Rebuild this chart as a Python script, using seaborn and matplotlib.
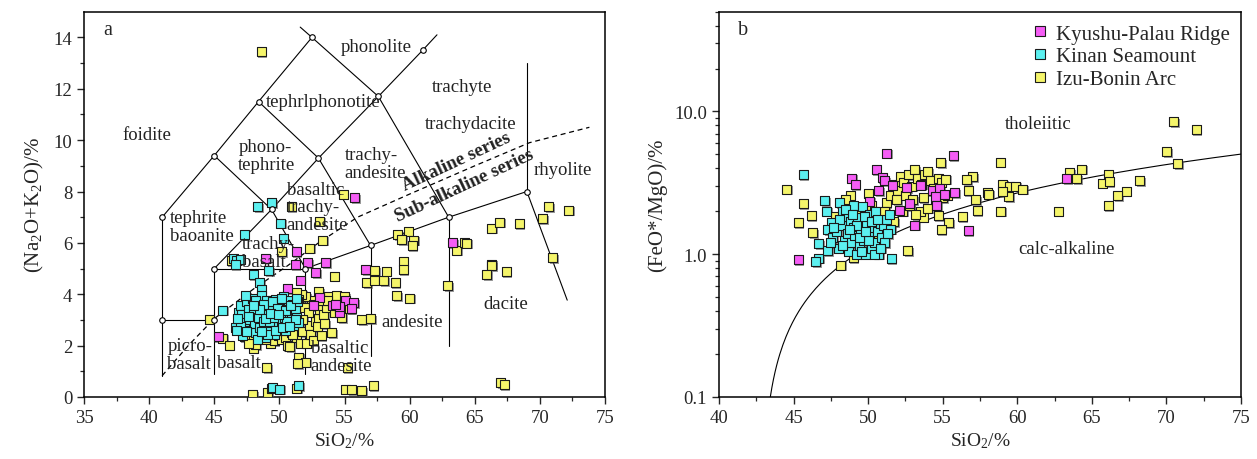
import numpy as np
import pandas as pd
import matplotlib
matplotlib.use("Agg")
import matplotlib.pyplot as plt
import matplotlib.patheffects as pe
from matplotlib.lines import Line2D
from matplotlib.ticker import MultipleLocator, FixedLocator, FixedFormatter, LogLocator, NullFormatter
import seaborn as sns

# ---------------- DATA ----------------
groups = ["Kyushu-Palau Ridge", "Kinan Seamount", "Izu-Bonin Arc"]
colors = {"Kyushu-Palau Ridge": "#F55DF5", "Kinan Seamount": "#5CF0F0", "Izu-Bonin Arc": "#F5F56A"}

# Panel a: SiO2 vs Na2O+K2O
a_kp_x = [55.8, 56.6, 63.3, 51.3, 51.2, 52.15, 53.55, 52.8, 51.6, 50.6, 48.95, 45.3, 53.1, 54.1,
          54.65, 55.1, 55.7, 54.6, 52.6, 49.15, 48.9, 55.5, 54.3]
a_kp_y = [7.77, 4.97, 6.01, 5.66, 5.14, 5.23, 5.23, 4.84, 4.55, 4.23, 5.4, 2.34, 3.87, 3.55,
          3.29, 3.74, 3.68, 3.52, 3.55, 3.74, 2.38, 3.45, 3.6]

a_ks_x = [45.65, 46.5, 46.7, 47.0, 46.6, 47.3, 50.3, 48.0, 49.2, 48.5, 48.6, 48.33, 49.4, 50.1,
          49.4, 49.5, 50.0, 51.5,
          46.6, 46.9, 47.0, 47.1, 47.3, 47.2, 47.5, 47.6, 47.7, 47.8, 47.9, 48.0, 48.1, 48.2, 48.3,
          48.4, 48.5, 48.6, 48.7, 48.8, 48.9, 49.0, 49.1, 49.15, 49.3, 49.4, 49.5, 49.6, 49.7, 49.8,
          49.9, 50.0, 50.1, 50.2, 50.3, 50.4, 50.5, 50.6, 50.7, 50.8, 50.9, 51.0, 51.1, 51.2, 51.3,
          51.4, 51.5, 47.4, 47.05, 48.15, 48.35, 48.75, 49.25, 49.45, 49.55, 49.85, 50.15, 50.45,
          50.55, 49.05, 48.45, 47.65, 46.8, 46.7, 50.85, 51.25, 51.35, 49.7, 50.25, 48.05, 48.95,
          49.35, 49.95, 50.75, 47.45, 48.65]
a_ks_y = [3.38, 5.39, 5.33, 5.36, 5.14, 6.31, 6.18, 4.75, 4.91, 4.45, 4.2, 7.42, 7.57, 6.77,
          0.34, 0.37, 0.31, 0.44,
          2.7, 3.3, 3.55, 3.2, 2.9, 2.4, 3.7, 3.4, 3.0, 2.6, 3.85, 3.3, 2.85, 2.5, 3.6,
          3.1, 2.7, 3.95, 3.4, 2.95, 2.3, 3.75, 3.2, 2.6, 3.55, 2.9, 3.35, 2.45, 3.8, 3.05,
          2.75, 3.6, 3.3, 2.9, 3.9, 3.1, 2.6, 3.5, 3.75, 3.0, 3.25, 3.6, 2.8, 3.4, 3.1,
          3.7, 2.9, 3.95, 2.75, 3.75, 2.25, 3.6, 2.95, 3.7, 3.1, 3.45, 3.85, 3.35,
          2.95, 2.45, 3.4, 3.15, 3.05, 2.6, 3.55, 3.0, 3.85, 2.6, 2.7, 3.55, 3.05,
          3.25, 3.2, 2.75, 2.55, 2.55]

a_ib_x = [48.6, 54.9, 50.9, 53.1, 53.3, 52.35, 50.2, 59.1, 59.9, 59.4, 60.3, 60.2, 63.6, 64.2, 64.4,
          66.3, 66.9, 68.4, 70.2, 70.7, 72.2, 71.0, 62.9, 66.3, 66.3, 65.9, 67.4, 59.5, 59.5, 58.9,
          59.0, 60.0, 57.3, 56.7, 57.3, 58.0, 58.2, 56.3, 57.0, 67.0, 67.25, 55.1, 55.55, 56.3, 57.2,
          47.95, 49.1, 51.35, 44.6, 45.65, 46.15, 46.3, 54.2,
          47.8, 48.0, 48.2, 48.6, 49.0, 49.3, 49.6, 49.9, 50.2, 50.5, 50.6, 50.9, 51.1, 51.3, 51.5,
          51.6, 51.8, 52.0, 52.1, 52.3, 52.4, 52.6, 52.8, 53.0, 53.1, 53.2, 53.4, 53.6, 53.8, 54.0,
          54.1, 54.2, 54.4, 54.6, 54.8, 55.0, 55.2, 55.4, 53.0, 52.5, 52.0, 51.7, 51.5, 51.3, 51.9,
          52.2, 51.8, 52.6, 53.3, 53.7, 51.0, 50.3, 47.3, 47.6, 48.9, 52.9, 53.5, 50.8, 51.4, 48.4]
a_ib_y = [13.45, 7.9, 7.4, 6.85, 6.1, 5.79, 5.66, 6.33, 6.45, 6.13, 6.1, 5.9, 5.72, 6.03, 5.99,
          6.57, 6.81, 6.76, 6.94, 7.41, 7.27, 5.43, 4.33, 5.17, 5.1, 4.75, 4.87, 5.27, 4.95, 4.45,
          3.94, 3.85, 4.91, 4.45, 4.55, 4.52, 4.9, 3.0, 3.06, 0.55, 0.47, 0.31, 0.28, 0.25, 0.44,
          0.08, 0.16, 0.34, 3.03, 2.29, 2.02, 5.3, 4.71,
          2.2, 1.9, 2.05, 2.35, 1.15, 2.1, 2.2, 2.4, 2.25, 2.3, 2.0, 2.5, 2.7, 2.3, 1.55,
          2.1, 2.55, 1.35, 2.1, 2.8, 2.45, 2.2, 2.95, 3.05, 3.4, 2.4, 3.2, 3.5, 3.9, 2.5,
          3.6, 3.3, 3.95, 3.4, 3.1, 3.9, 1.15, 3.45, 4.1, 3.75, 3.9, 4.0, 3.8, 4.05, 3.5,
          3.3, 3.0, 3.6, 3.75, 3.75, 2.45, 2.6, 2.35, 2.1, 2.25, 2.75, 2.85, 1.95, 1.3, 2.75]

# Panel b: SiO2 vs FeO*/MgO
b_kp_x = [51.25, 55.7, 50.54, 50.95, 48.9, 49.13, 51.1, 51.6, 50.7, 52.6, 53.5, 54.3, 54.8, 55.1,
          55.8, 54.5, 52.8, 50.1, 52.1, 54.6, 53.1, 56.7, 63.3, 45.3]
b_kp_y = [5.11, 4.92, 3.91, 3.45, 3.42, 3.07, 3.27, 3.02, 2.79, 2.94, 3.04, 2.79, 2.9, 2.64,
          2.69, 2.55, 2.26, 2.35, 2.03, 2.19, 1.6, 1.47, 3.40, 0.92]

b_ks_x = [45.64, 47.1, 47.2, 48.1, 48.3, 47.55, 47.3, 46.7, 46.7, 47.3, 51.55, 46.5,
          47.6, 47.9, 48.0, 48.2, 48.4, 48.5, 48.6, 48.7, 48.8, 48.9, 49.0, 49.0, 49.1, 49.2, 49.3,
          49.4, 49.5, 49.6, 49.7, 49.8, 49.9, 50.0, 50.1, 50.2, 50.3, 50.4, 50.5, 50.6, 50.7, 50.8,
          50.9, 51.0, 51.1, 51.2, 51.4, 51.5, 48.1, 48.45, 49.25, 49.75, 50.25, 47.7, 48.3, 49.55,
          50.05, 50.65, 51.3, 48.95, 49.45, 50.45, 47.5, 48.75, 49.85, 50.85]
b_ks_y = [3.61, 2.37, 2.0, 2.31, 2.0, 1.66, 1.49, 1.18, 0.94, 1.06, 0.93, 0.89,
          1.3, 1.45, 1.1, 1.6, 1.25, 1.85, 1.4, 1.05, 1.7, 1.2, 1.55, 2.2, 1.35, 1.0, 1.8,
          1.15, 1.5, 2.15, 1.25, 1.0, 1.65, 1.35, 1.9, 1.1, 1.55, 1.2, 2.0, 1.45, 1.0, 1.65,
          1.3, 1.6, 1.2, 1.75, 1.9, 1.5, 1.75, 2.05, 1.6, 1.85, 1.7, 1.55, 1.15, 1.05,
          1.25, 1.75, 1.4, 1.9, 1.3, 1.0, 1.2, 1.5, 1.45, 1.1]

b_ib_x = [70.48, 72.0, 70.02, 70.75, 64.3, 63.5, 64.0, 66.1, 65.7, 66.15, 68.2, 67.3, 66.75, 66.1,
          62.75, 58.85, 57.0, 56.6, 56.7, 57.2, 57.3, 57.98, 58.1, 59.04, 59.5, 59.9, 59.4, 60.35,
          59.0, 58.9, 56.3, 55.4, 54.9, 54.7, 54.85, 53.7, 52.64, 48.17, 44.55, 45.64, 45.3, 46.18,
          46.3,
          51.2, 51.5, 51.8, 52.0, 52.2, 52.4, 52.5, 52.7, 52.9, 53.0, 53.1, 53.3, 53.5, 53.6, 53.8,
          54.0, 54.0, 54.2, 54.4, 54.7, 54.9, 55.2, 55.0, 52.3, 51.7, 51.3, 51.0, 50.8, 50.5, 50.7,
          49.8, 49.3, 48.8, 48.5, 49.0, 48.7, 47.8, 50.0, 50.2, 50.9, 51.1, 52.8, 53.7, 54.5, 55.3,
          53.2, 51.9, 50.4]
b_ib_y = [8.47, 7.45, 5.22, 4.33, 3.95, 3.74, 3.37, 3.61, 3.15, 3.24, 3.27, 2.76, 2.57, 2.19,
          2.0, 4.42, 3.51, 3.33, 2.8, 2.41, 2.03, 2.69, 2.63, 3.10, 3.0, 3.0, 2.52, 2.86,
          2.73, 2.0, 1.84, 1.67, 1.49, 1.87, 4.40, 1.82, 1.06, 0.84, 2.86, 2.26, 1.67, 1.86,
          1.41,
          2.3, 2.6, 3.1, 2.8, 3.5, 3.2, 2.6, 3.6, 3.0, 2.4, 3.9, 3.4, 2.0, 3.1, 3.6,
          3.8, 2.1, 3.3, 2.9, 3.4, 3.2, 3.35, 2.5, 2.0, 1.7, 1.5, 1.3, 1.1, 1.05, 1.4,
          1.7, 1.9, 2.6, 2.4, 0.95, 1.8, 1.85, 2.65, 2.2, 1.75, 2.0, 2.2, 2.5, 2.4, 2.6,
          1.9, 2.4, 2.0]

# TAS boundaries (Le Bas et al.)
tas_lines = [
    ([41, 41], [0.83, 7]),
    ([41, 45], [3, 3]),
    ([45, 45], [0.9, 5]),
    ([45, 52], [5, 5]),
    ([52, 52], [0.9, 5]),
    ([52, 57, 63, 69], [5, 5.9, 7, 8]),
    ([57, 57], [1.6, 5.9]),
    ([63, 63], [2.0, 7]),
    ([69, 69], [8, 13]),
    ([69, 72.1], [8, 3.77]),
    ([41, 45, 48.4, 52.5], [7, 9.4, 11.5, 14]),
    ([45, 49.4, 52], [9.4, 7.3, 5]),
    ([48.4, 53, 57], [11.5, 9.3, 5.9]),
    ([51.6, 52.5, 57.6, 63], [14.4, 14, 11.7, 7]),
    ([45, 49.4, 53, 57.6, 61, 62.1], [5, 7.3, 9.3, 11.7, 13.5, 14.1]),
]
vert_x = [41, 41, 45, 45, 45, 48.4, 49.4, 52, 52.5, 53, 57, 57.6, 61, 63, 69]
vert_y = [7, 3, 9.4, 5, 3, 11.5, 7.3, 5, 14, 9.3, 5.9, 11.7, 13.5, 7, 8]
alk_x = [41, 43, 45, 48, 50.6, 53, 56, 60, 65, 69.2, 73.8]
alk_y = [0.83, 2.0, 3.05, 4.2, 5.1, 6.0, 7.0, 7.9, 9.0, 9.9, 10.5]

rock_labels = [
    ("foidite", 39.8, 10.2), ("phonolite", 57.4, 13.65), ("tephrlphonotite", 53.4, 11.5),
    ("trachyte", 64.0, 12.1), ("trachydacite", 64.7, 10.65),
]
rock_labels_left = [
    ("phono-\ntephrite", 46.85, 9.4), ("trachy-\nandesite", 55.0, 9.1),
    ("basaltic\ntrachy-\nandesite", 50.55, 7.4), ("tephrite\nbaoanite", 41.6, 6.63),
    ("trachy-\nbasalt", 47.1, 5.63), ("picro-\nbasalt", 41.4, 1.66), ("basalt", 45.2, 1.34),
    ("basaltic\nandesite", 52.4, 1.58), ("andesite", 57.8, 2.94), ("dacite", 65.7, 3.65),
    ("rhyolite", 69.5, 8.84),
]

# Miyashiro (1974) TH/CA boundary
miy_x = [43.44, 75.0]
miy_y = [0.1, 5.03]

# ---------------- STYLE ----------------
sns.set_theme(style="ticks")
plt.rcParams["font.family"] = ["Liberation Serif", "DejaVu Serif"]
plt.rcParams["mathtext.default"] = "regular"
plt.rcParams["axes.linewidth"] = 1.1
plt.rcParams["xtick.direction"] = "out"
plt.rcParams["ytick.direction"] = "out"

TICK_FS = 13.5
XLAB_FS = 14
YLAB_FS = 15
TXT_FS = 13.5

fig = plt.figure(figsize=(12.57, 4.6), dpi=100)
H = 385.3 / 460
B = 1 - 398 / 460
ax1 = fig.add_axes([84 / 1257, B, 521 / 1257, H])
ax2 = fig.add_axes([719 / 1257, B, 522 / 1257, H])


def make_df(pairs):
    rows = []
    for g, xs, ys in pairs:
        for x, y in zip(xs, ys):
            rows.append((g, x, y))
    return pd.DataFrame(rows, columns=["group", "x", "y"])


order_pairs_a = [("Izu-Bonin Arc", a_ib_x, a_ib_y), ("Kyushu-Palau Ridge", a_kp_x, a_kp_y),
                 ("Kinan Seamount", a_ks_x, a_ks_y)]
order_pairs_b = [("Izu-Bonin Arc", b_ib_x, b_ib_y), ("Kyushu-Palau Ridge", b_kp_x, b_kp_y),
                 ("Kinan Seamount", b_ks_x, b_ks_y)]
df_a = make_df(order_pairs_a)
df_b = make_df(order_pairs_b)

shadow = [pe.SimplePatchShadow(offset=(1.2, -1.2), shadow_rgbFace="0.35", alpha=0.6), pe.Normal()]

# ---- panel a ----
for xs, ys in tas_lines:
    ax1.plot(xs, ys, color="black", lw=0.8, zorder=1)
ax1.plot(alk_x, alk_y, color="black", lw=0.9, ls=(0, (4, 3)), zorder=1)
ax1.plot(vert_x, vert_y, ls="none", marker="o", ms=4, mfc="white", mec="black", mew=0.8, zorder=4)

sns.scatterplot(data=df_a, x="x", y="y", hue="group", palette=colors, marker="s", s=42,
                edgecolor="#1a1a1a", linewidth=0.8, legend=False, ax=ax1, zorder=3)
ax1.collections[-1].set_path_effects(shadow)

for t, x, y in rock_labels:
    ax1.text(x, y, t, ha="center", va="center", fontsize=TXT_FS, color="#222222", zorder=5)
for t, x, y in rock_labels_left:
    ax1.text(x, y, t, ha="left", va="center", fontsize=TXT_FS, color="#222222",
             linespacing=1.05, zorder=5)
ax1.text(63.6, 9.2, "Alkaline series", rotation=25, ha="center", va="center",
         fontsize=TXT_FS, fontweight="bold", color="#222222", zorder=5)
ax1.text(64.2, 8.25, "Sub-alkaline series", rotation=25, ha="center", va="center",
         fontsize=TXT_FS, fontweight="bold", color="#222222", zorder=5)

ax1.set_xlim(35, 75)
ax1.set_ylim(0, 15)
ax1.xaxis.set_major_locator(MultipleLocator(5))
ax1.xaxis.set_minor_locator(MultipleLocator(2.5))
ax1.yaxis.set_major_locator(FixedLocator([0, 2, 4, 6, 8, 10, 12, 14]))
ax1.yaxis.set_minor_locator(FixedLocator([1, 3, 5, 7, 9, 11, 13]))
ax1.set_xlabel("SiO$_2$/%", fontsize=XLAB_FS, labelpad=3)
ax1.set_ylabel("(Na$_2$O+K$_2$O)/%", fontsize=YLAB_FS, labelpad=5)
ax1.text(0.036, 0.955, "a", transform=ax1.transAxes, fontsize=14.5, ha="left", va="center")

# ---- panel b ----
ax2.set_yscale("log")
mx = np.linspace(miy_x[0], miy_x[1], 300)
ax2.plot(mx, np.interp(mx, miy_x, miy_y), color="black", lw=0.8, zorder=1)
sns.scatterplot(data=df_b, x="x", y="y", hue="group", palette=colors, marker="s", s=42,
                edgecolor="#1a1a1a", linewidth=0.8, legend=False, ax=ax2, zorder=3)
ax2.collections[-1].set_path_effects(shadow)
ax2.text(61.4, 8.2, "tholeiitic", ha="center", va="center", fontsize=TXT_FS, color="#222222")
ax2.text(63.3, 1.09, "calc-alkaline", ha="center", va="center", fontsize=TXT_FS, color="#222222")
ax2.set_xlim(40, 75)
ax2.set_ylim(0.1, 50)
ax2.xaxis.set_major_locator(MultipleLocator(5))
ax2.xaxis.set_minor_locator(MultipleLocator(2.5))
ax2.yaxis.set_major_locator(FixedLocator([0.1, 1, 10]))
ax2.yaxis.set_major_formatter(FixedFormatter(["0.1", "1.0", "10.0"]))
ax2.yaxis.set_minor_locator(LogLocator(base=10, subs=np.arange(2, 10)))
ax2.yaxis.set_minor_formatter(NullFormatter())
ax2.set_xlabel("SiO$_2$/%", fontsize=XLAB_FS, labelpad=3)
ax2.set_ylabel("(FeO*/MgO)/%", fontsize=YLAB_FS, labelpad=5)
ax2.text(0.036, 0.955, "b", transform=ax2.transAxes, fontsize=14.5, ha="left", va="center")

handles = [Line2D([], [], ls="none", marker="s", ms=7, mfc=colors[g], mec="#1a1a1a", mew=0.8)
           for g in groups]
ax2.legend(handles, groups, loc="upper right", frameon=False, fontsize=15,
           handlelength=1.0, handletextpad=0.3, labelspacing=0.15, borderaxespad=0.2,
           bbox_to_anchor=(1.003, 1.0))

for ax in (ax1, ax2):
    ax.tick_params(which="major", length=5, width=1.0, labelsize=TICK_FS, top=False, right=False)
    ax.tick_params(which="minor", length=3, width=0.9, top=False, right=False)
    for sp in ax.spines.values():
        sp.set_visible(True)
        sp.set_color("black")

fig.savefig("out.png", dpi=100)
